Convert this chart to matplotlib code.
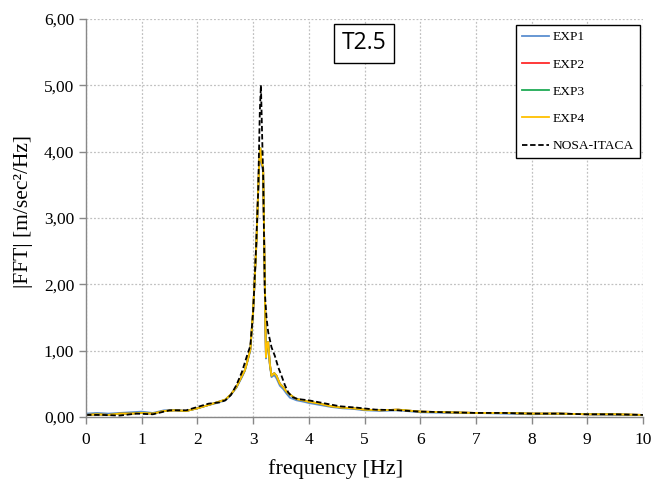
import matplotlib
matplotlib.use("Agg")
import matplotlib.pyplot as plt
from matplotlib.ticker import FuncFormatter, MultipleLocator

# ---- data ----
freq = [0.0, 0.2, 0.4, 0.6, 0.8, 1.0, 1.2, 1.4, 1.6, 1.8, 2.0, 2.2, 2.35, 2.5, 2.6,
        2.7, 2.8, 2.85, 2.9, 2.95, 3.0, 3.03, 3.06, 3.09, 3.11, 3.13, 3.15, 3.18,
        3.21, 3.23, 3.25, 3.27, 3.30, 3.33, 3.38, 3.42, 3.48, 3.54, 3.60, 3.66,
        3.72, 3.78, 3.9, 4.0, 4.2, 4.4, 4.6, 4.8, 5.0, 5.3, 5.6, 6.0, 6.5, 7.0,
        7.5, 8.0, 8.5, 9.0, 9.5, 10.0]

exp1 = [0.05, 0.06, 0.05, 0.06, 0.07, 0.08, 0.06, 0.10, 0.10, 0.09, 0.13, 0.18,
        0.21, 0.25, 0.33, 0.44, 0.60, 0.69, 0.84, 1.00, 1.58, 2.08, 2.62, 3.36,
        3.80, 4.00, 3.80, 3.70, 1.95, 0.88, 1.08, 1.10, 0.78, 0.60, 0.63, 0.58,
        0.47, 0.42, 0.35, 0.29, 0.27, 0.25, 0.23, 0.21, 0.18, 0.15, 0.13, 0.12,
        0.10, 0.09, 0.10, 0.07, 0.06, 0.06, 0.05, 0.04, 0.05, 0.04, 0.03, 0.03]

exp2 = [0.03, 0.04, 0.03, 0.05, 0.05, 0.06, 0.05, 0.09, 0.10, 0.09, 0.13, 0.18,
        0.22, 0.26, 0.34, 0.45, 0.62, 0.70, 0.85, 1.02, 1.60, 2.10, 2.65, 3.40,
        3.85, 4.04, 3.84, 3.74, 2.00, 0.90, 1.10, 1.13, 0.80, 0.62, 0.66, 0.62,
        0.50, 0.45, 0.38, 0.34, 0.30, 0.27, 0.25, 0.23, 0.20, 0.16, 0.14, 0.13,
        0.11, 0.10, 0.11, 0.08, 0.07, 0.06, 0.06, 0.05, 0.05, 0.04, 0.04, 0.03]

exp3 = [0.03, 0.04, 0.03, 0.05, 0.05, 0.06, 0.05, 0.09, 0.10, 0.09, 0.13, 0.18,
        0.22, 0.26, 0.34, 0.45, 0.62, 0.70, 0.85, 1.02, 1.60, 2.10, 2.65, 3.40,
        3.85, 4.05, 3.85, 3.75, 2.00, 0.90, 1.10, 1.13, 0.80, 0.62, 0.66, 0.62,
        0.50, 0.45, 0.38, 0.34, 0.30, 0.27, 0.25, 0.23, 0.20, 0.16, 0.14, 0.13,
        0.11, 0.10, 0.11, 0.08, 0.07, 0.06, 0.06, 0.05, 0.05, 0.04, 0.04, 0.03]

exp4 = [0.03, 0.04, 0.03, 0.05, 0.05, 0.06, 0.05, 0.09, 0.10, 0.09, 0.13, 0.18,
        0.22, 0.26, 0.34, 0.45, 0.62, 0.70, 0.85, 1.02, 1.60, 2.10, 2.65, 3.40,
        3.85, 4.05, 3.85, 3.75, 2.00, 0.90, 1.10, 1.13, 0.80, 0.62, 0.66, 0.62,
        0.50, 0.45, 0.38, 0.34, 0.30, 0.27, 0.25, 0.23, 0.20, 0.16, 0.14, 0.13,
        0.11, 0.10, 0.11, 0.08, 0.07, 0.06, 0.06, 0.05, 0.05, 0.04, 0.04, 0.03]

nosa_freq = [0.0, 0.3, 0.6, 0.9, 1.2, 1.5, 1.8, 2.0, 2.2, 2.4, 2.5, 2.6, 2.7, 2.8,
             2.9, 2.95, 3.0, 3.05, 3.09, 3.12, 3.14, 3.16, 3.18, 3.21, 3.24, 3.27,
             3.33, 3.39, 3.45, 3.51, 3.57, 3.63, 3.7, 3.8, 4.0, 4.25, 4.56, 4.86,
             5.2, 5.6, 6.0, 6.5, 7.0, 7.5, 8.0, 8.5, 9.0, 9.5, 10.0]
nosa = [0.03, 0.03, 0.02, 0.05, 0.04, 0.10, 0.10, 0.15, 0.20, 0.22, 0.25, 0.33,
        0.48, 0.68, 0.95, 1.07, 1.58, 2.50, 3.38, 4.60, 5.00, 4.30, 3.63, 1.88,
        1.50, 1.28, 1.05, 0.92, 0.75, 0.62, 0.48, 0.37, 0.30, 0.27, 0.25, 0.21,
        0.16, 0.14, 0.11, 0.10, 0.08, 0.07, 0.06, 0.06, 0.05, 0.05, 0.04, 0.04, 0.03]

series_names = ["EXP1", "EXP2", "EXP3", "EXP4"]
series_colors = ["#5b8fd0", "#ff2a2a", "#1faa55", "#ffc000"]
title_text = "T2.5"

# ---- plot ----
plt.rcParams['font.family'] = ['Liberation Serif', 'DejaVu Serif']
fig = plt.figure(figsize=(6.67, 4.82), dpi=100)
ax = fig.add_axes([0.129, 0.135, 0.835, 0.826])

for name, vals, col in zip(series_names, [exp1, exp2, exp3, exp4], series_colors):
    ax.plot(freq, vals, color=col, lw=1.3, label=name)
ax.plot(nosa_freq, nosa, color="black", lw=1.3, ls=(0, (3, 1.5)), label="NOSA-ITACA")

ax.set_xlim(0, 10)
ax.set_ylim(0, 6)
ax.xaxis.set_major_locator(MultipleLocator(1))
ax.yaxis.set_major_locator(MultipleLocator(1))
ax.yaxis.set_major_formatter(FuncFormatter(lambda v, p: f"{v:.2f}".replace(".", ",")))
ax.grid(True, color="#c0c0c0", ls=(0, (1.5, 1.5)), lw=0.9)
ax.set_axisbelow(True)
for s in ["top", "right"]:
    ax.spines[s].set_visible(False)
for s in ["left", "bottom"]:
    ax.spines[s].set_color("#888888")
    ax.spines[s].set_linewidth(1.0)
ax.tick_params(axis="both", direction="out", color="#888888", length=5,
               labelsize=12.5, width=1.0)
ax.tick_params(axis="x", pad=6)

ax.set_xlabel("frequency [Hz]", fontsize=16)
ax.xaxis.set_label_coords(0.448, -0.105)
ax.set_ylabel("|FFT| [m/sec²/Hz]", fontsize=15.5)
ax.yaxis.set_label_coords(-0.095, 0.515)

leg = ax.legend(loc="upper right", bbox_to_anchor=(0.9946, 0.985), borderaxespad=0,
                fontsize=9.7, frameon=True, fancybox=False, edgecolor="black",
                framealpha=1, handlelength=2.0, labelspacing=1.1, borderpad=0.45,
                handletextpad=0.3)
leg.get_frame().set_linewidth(1.0)

ax.text(0.499, 0.939, title_text, transform=ax.transAxes, fontsize=16.5,
        family="Open Sans", ha="center", va="center",
        bbox=dict(boxstyle="square,pad=0.33", fc="white", ec="black", lw=1.0))

fig.savefig("out.png", dpi=100)
